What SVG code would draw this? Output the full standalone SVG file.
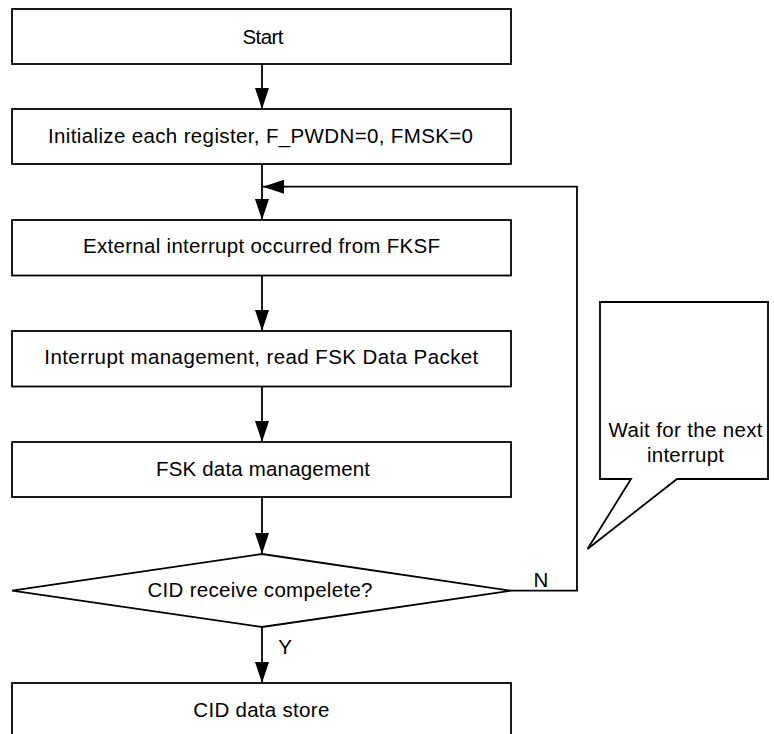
<svg xmlns="http://www.w3.org/2000/svg" width="774" height="734" viewBox="0 0 774 734">
<style>
.box{fill:#fff;stroke:#000;stroke-width:1.8}
.ln{fill:none;stroke:#000;stroke-width:1.8}
.t{font-family:"Liberation Sans",Arial,sans-serif;font-size:20.5px;fill:#000;text-anchor:middle}
</style>
<defs>
<marker id="ah" viewBox="0 0 21 14" refX="21" refY="7" markerWidth="21" markerHeight="14" markerUnits="userSpaceOnUse" orient="auto">
<path d="M0,0 L21,7 L0,14 Z" fill="#000"/>
</marker>
</defs>
<rect width="774" height="734" fill="#fff"/>
<g id="connectors">
<line class="ln" x1="262" y1="64" x2="262" y2="109" marker-end="url(#ah)"/>
<line class="ln" x1="262" y1="164" x2="262" y2="220" marker-end="url(#ah)"/>
<line class="ln" x1="262" y1="275.5" x2="262" y2="331" marker-end="url(#ah)"/>
<line class="ln" x1="262" y1="386.5" x2="262" y2="442" marker-end="url(#ah)"/>
<line class="ln" x1="262" y1="497" x2="262" y2="554" marker-end="url(#ah)"/>
<line class="ln" x1="262" y1="627" x2="262" y2="683" marker-end="url(#ah)"/>
<polyline class="ln" points="511,590.7 577,590.7 577,186.7 263,186.7" marker-end="url(#ah)"/>
<text class="t" x="541" y="587">N</text>
<text class="t" x="285" y="654">Y</text>
</g>
<g id="start">
<rect class="box" x="12" y="9" width="499" height="55"/>
<text class="t" x="263" y="44" textLength="41">Start</text>
</g>
<g id="init">
<rect class="box" x="12" y="109" width="499" height="55"/>
<text class="t" x="260.5" y="143" textLength="425">Initialize each register, F_PWDN=0, FMSK=0</text>
</g>
<g id="ext">
<rect class="box" x="12" y="220" width="499" height="55.5"/>
<text class="t" x="261.5" y="253" textLength="357">External interrupt occurred from FKSF</text>
</g>
<g id="intmgmt">
<rect class="box" x="12" y="331" width="499" height="55.5"/>
<text class="t" x="261.3" y="364" textLength="434">Interrupt management, read FSK Data Packet</text>
</g>
<g id="fskmgmt">
<rect class="box" x="12" y="442" width="499" height="55"/>
<text class="t" x="263" y="476" textLength="214">FSK data management</text>
</g>
<g id="decision">
<polygon class="box" points="262,554 511,590.7 262,627 12,590.7"/>
<text class="t" x="260" y="597" textLength="225">CID receive compelete?</text>
</g>
<g id="store">
<rect class="box" x="12" y="683" width="499" height="55"/>
<text class="t" x="261.3" y="717" textLength="136">CID data store</text>
</g>
<g id="callout">
<path class="box" d="M600,302 L768,302 L768,479 L677,479 L587.5,549 L631,479 L600,479 Z"/>
<text class="t" x="685.5" y="437" textLength="154">Wait for the next</text>
<text class="t" x="685.5" y="462" textLength="77">interrupt</text>
</g>
</svg>
